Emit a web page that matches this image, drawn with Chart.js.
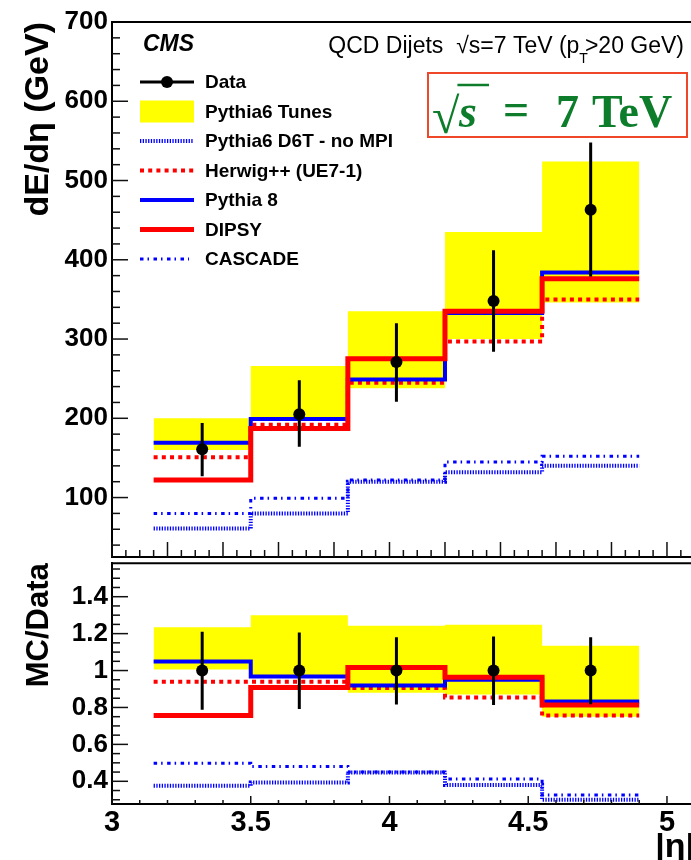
<!DOCTYPE html>
<html><head><meta charset="utf-8">
<script src="https://cdn.jsdelivr.net/npm/chart.js@4.4.1/dist/chart.umd.min.js"></script>
<style>
html,body{margin:0;padding:0;background:#fff;overflow:hidden;width:691px;height:860px;}
#top{position:absolute;left:0;top:0;width:695px;height:560px;}
#bot{position:absolute;left:0;top:560px;width:695px;height:300px;}
</style></head><body>
<div id="top"><canvas id="c1" width="695" height="560"></canvas></div>
<div id="bot"><canvas id="c2" width="695" height="300"></canvas></div>
<script>
// ---------- data ----------
const binEdges = [3.15, 3.5, 3.85, 4.2, 4.55, 4.9];
// top panel: dE/deta (GeV)
const dataVal   = [161, 205, 271, 348, 463];
const dataErrLo = [127, 164, 221, 284, 379];
const dataErrHi = [194, 248, 320, 412, 548];
const tunesLo   = [160, 199, 238, 300, 346];
const tunesHi   = [200, 266, 335, 435, 524];
const d6tNoMPI  = [61, 80, 120, 132, 140];
const herwig    = [151, 192, 245, 297, 350];
const pythia8   = [169, 199, 249, 333, 384];
const dipsy     = [122, 187, 275, 335, 376];
const cascade   = [80, 99, 122, 145, 152];
// bottom panel: MC/Data
const rData     = [1, 1, 1, 1, 1];
const rErrLo    = [0.787, 0.792, 0.816, 0.814, 0.818];
const rErrHi    = [1.21, 1.206, 1.18, 1.184, 1.18];
const rTunesLo  = [1.005, 0.965, 0.88, 0.87, 0.75];
const rTunesHi  = [1.235, 1.30, 1.242, 1.248, 1.134];
const rD6T      = [0.376, 0.393, 0.447, 0.38, 0.30];
const rHerwig   = [0.939, 0.939, 0.905, 0.854, 0.756];
const rPythia8  = [1.049, 0.968, 0.919, 0.95, 0.832];
const rDipsy    = [0.756, 0.908, 1.017, 0.964, 0.814];
const rCascade  = [0.498, 0.48, 0.45, 0.413, 0.326];
// tick labels
const topYTicks   = [100, 200, 300, 400, 500, 600, 700];
const ratioYTicks = [0.4, 0.6, 0.8, 1.0, 1.2, 1.4];
const xTickLabels = [3, 3.5, 4, 4.5, 5];
const legendOrder = ['Data', 'Pythia6 Tunes', 'Pythia6 D6T - no MPI', 'Herwig++ (UE7-1)', 'Pythia 8', 'DIPSY', 'CASCADE'];

// ---------- helpers ----------
const SANS = "'Liberation Sans', Arial, Helvetica, sans-serif";
const SERIF = "'Liberation Serif', 'DejaVu Serif', serif";
const X_MIN = 3, X_MAX = 5.101;
const centers = binEdges.slice(0, -1).map((e, i) => (e + binEdges[i + 1]) / 2);
const hist = vals => binEdges.map((e, i) => ({x: e, y: vals[Math.min(i, vals.length - 1)]}));
const pts = vals => centers.map((c, i) => ({x: c, y: vals[i]}));
const errs = (lo, hi) => centers.flatMap((c, i) => [{x: c, y: lo[i]}, {x: c, y: hi[i]}, {x: c, y: null}]);

function buildDatasets(v) {
  const line = (label, vals, color, width, dash, order) => ({
    label, data: hist(vals), borderColor: color, borderWidth: width, borderDash: dash,
    stepped: true, pointRadius: 0, fill: false, order, borderCapStyle: 'butt', borderJoinStyle: 'miter'
  });
  return [
    {label: 'Data', data: pts(v.data), showLine: false, pointRadius: 6, pointHoverRadius: 6,
     pointBackgroundColor: '#000', pointBorderColor: '#000', pointBorderWidth: 0, order: 0},
    {label: 'Data uncertainty', data: errs(v.lo, v.hi), borderColor: '#000', borderWidth: 3,
     pointRadius: 0, spanGaps: false, fill: false, order: 1},
    line('DIPSY', v.dipsy, '#ff0000', 5, [], 2),
    line('Pythia 8', v.py8, '#0000ff', 4, [], 3),
    line('Herwig++ (UE7-1)', v.herwig, '#ff0000', 4, [4, 4.2], 4),
    line('CASCADE', v.cascade, '#0000ff', 3, [3.5, 4, 1.5, 4.5], 5),
    line('Pythia6 D6T - no MPI', v.d6t, '#0000ff', 4, [1.3, 1.4], 6),
    {label: 'Pythia6 Tunes', data: hist(v.tHi), stepped: true, borderColor: 'rgba(0,0,0,0)', borderWidth: 0,
     pointRadius: 0, backgroundColor: '#ffff00', fill: '+1', order: 10},
    {label: 'Pythia6 Tunes (lower edge)', data: hist(v.tLo), stepped: true, borderColor: 'rgba(0,0,0,0)', borderWidth: 0,
     pointRadius: 0, fill: false, order: 11}
  ];
}

// ROOT-style inner ticks + top frame line
const rootFrame = {
  id: 'rootFrame',
  afterDatasetsDraw(chart, args, opts) {
    const {ctx, chartArea: a, scales: {x, y}} = chart;
    ctx.save();
    ctx.strokeStyle = '#111';
    ctx.lineWidth = 1.5;
    const draw = (scale, cfg, horiz) => {
      const n0 = Math.ceil(scale.min / cfg.minor - 1e-6), n1 = Math.floor(scale.max / cfg.minor + 1e-6);
      for (let n = n0; n <= n1; n++) {
        const v = n * cfg.minor;
        const r = v / cfg.major;
        const len = Math.abs(r - Math.round(r)) < 1e-6 ? cfg.majLen : cfg.minLen;
        const p = scale.getPixelForValue(v);
        ctx.beginPath();
        if (horiz) { ctx.moveTo(p, a.bottom); ctx.lineTo(p, a.bottom - len); }
        else { ctx.moveTo(a.left, p); ctx.lineTo(a.left + len, p); }
        ctx.stroke();
      }
    };
    draw(x, opts.x, true);
    draw(y, opts.y, false);
    ctx.lineWidth = 2;
    ctx.strokeStyle = '#000';
    ctx.beginPath(); ctx.moveTo(a.left, a.top); ctx.lineTo(a.right, a.top); ctx.stroke();
    ctx.restore();
  }
};

// legend and text annotations (top panel)
const rootLegend = {
  id: 'rootLegend',
  afterDraw(chart) {
    const ctx = chart.ctx;
    const ds = chart.data.datasets;
    ctx.save();
    ctx.textBaseline = 'middle'; ctx.textAlign = 'left'; ctx.fillStyle = '#000';
    ctx.font = `italic bold 23px ${SANS}`;
    ctx.fillText('CMS', 143, 45);
    const x0 = 140, x1 = 194, tx = 205;
    legendOrder.forEach((lab, i) => {
      const y = 82 + i * 29.5;
      const d = ds.find(q => q.label === lab);
      if (lab === 'Data') {
        ctx.strokeStyle = '#000'; ctx.lineWidth = 3; ctx.setLineDash([]);
        ctx.beginPath(); ctx.moveTo(x0, y); ctx.lineTo(x1, y); ctx.stroke();
        ctx.beginPath(); ctx.arc((x0 + x1) / 2, y, 6, 0, Math.PI * 2); ctx.fillStyle = '#000'; ctx.fill();
      } else if (lab === 'Pythia6 Tunes') {
        ctx.fillStyle = d.backgroundColor; ctx.fillRect(x0, y - 11, x1 - x0, 22);
      } else {
        ctx.strokeStyle = d.borderColor; ctx.lineWidth = d.borderWidth; ctx.setLineDash(d.borderDash || []);
        ctx.lineCap = 'butt';
        ctx.beginPath(); ctx.moveTo(x0, y); ctx.lineTo(lab === 'CASCADE' ? 189 : x1, y); ctx.stroke();
        ctx.setLineDash([]);
      }
      ctx.fillStyle = '#000';
      ctx.font = `bold 19px ${SANS}`;
      ctx.fillText(lab, tx, y + 1);
    });
    // header text, right aligned
    ctx.textBaseline = 'alphabetic';
    const p1 = 'QCD Dijets  \u221As=7 TeV (p', sub = 'T', p2 = '>20 GeV)';
    ctx.font = `23px ${SANS}`;
    const w1 = ctx.measureText(p1).width, w2 = ctx.measureText(p2).width;
    ctx.font = `14px ${SANS}`;
    const ws = ctx.measureText(sub).width;
    let xs = 684 - (w1 + ws + w2 - 3);
    ctx.font = `23px ${SANS}`;
    ctx.fillText(p1, xs, 53);
    ctx.font = `14px ${SANS}`;
    ctx.fillText(sub, xs + w1, 63);
    ctx.font = `23px ${SANS}`;
    ctx.fillText(p2, xs + w1 + ws - 3, 53);
    // boxed energy label
    ctx.strokeStyle = '#f0462a'; ctx.lineWidth = 2;
    ctx.strokeRect(428, 73, 259, 64);
    ctx.fillStyle = '#0d7d2b'; ctx.strokeStyle = '#0d7d2b';
    const base = 127;
    ctx.font = `50px ${SERIF}`;
    ctx.fillText('\u221A', 432, base + 6);
    const wr = ctx.measureText('\u221A').width;
    ctx.lineWidth = 2.5;
    ctx.beginPath(); ctx.moveTo(432 + wr - 2, 85); ctx.lineTo(489, 85); ctx.stroke();
    ctx.font = `italic bold 46px ${SERIF}`;
    ctx.fillText('s', 459, base);
    ctx.font = `bold 46px ${SERIF}`;
    ctx.fillText('=', 503, base - 2);
    ctx.fillText('7', 556, base);
    ctx.fillText('TeV', 592, base);
    ctx.restore();
  }
};

function yAxis(min, max, ticks, title, titlePad, titleSize) {
  return {
    type: 'linear', min, max,
    afterBuildTicks: s => { s.ticks = ticks.map(v => ({value: v})); },
    afterFit: s => { s.width = 112; s.paddingTop = 0; s.paddingBottom = 0; },
    grid: {display: false, drawTicks: false, tickLength: 0},
    border: {display: true, color: '#000', width: 2},
    ticks: {color: '#000', padding: 4, font: {family: SANS, size: 26, weight: 'bold'},
            callback: v => String(+Number(v).toFixed(2))},
    title: {display: true, text: title, align: 'end', color: '#000',
            font: {family: SANS, size: titleSize, weight: 'bold', lineHeight: 1.2},
            padding: {top: titlePad, bottom: 0}}
  };
}

Chart.defaults.animation = false;

new Chart(document.getElementById('c1'), {
  type: 'line',
  data: {datasets: buildDatasets({data: dataVal, lo: dataErrLo, hi: dataErrHi, tLo: tunesLo, tHi: tunesHi,
    d6t: d6tNoMPI, herwig, py8: pythia8, dipsy, cascade})},
  options: {
    responsive: false, devicePixelRatio: 1, events: [],
    layout: {autoPadding: false, padding: {top: 22, left: 0, right: 0, bottom: 0}},
    plugins: {legend: {display: false}, tooltip: {enabled: false},
      rootFrame: {x: {major: 0.2, minor: 0.05, majLen: 15, minLen: 7}, y: {major: 100, minor: 20, majLen: 16, minLen: 8}}},
    scales: {
      x: {type: 'linear', min: X_MIN, max: X_MAX,
          afterFit: s => { s.height = 3; s.paddingLeft = 0; s.paddingRight = 0; },
          grid: {display: false, drawTicks: false, tickLength: 0},
          border: {display: true, color: '#000', width: 2},
          ticks: {display: false}},
      y: yAxis(25, 700, topYTicks, 'dE/d\u03B7 (GeV)', 18, 34)
    }
  },
  plugins: [rootFrame, rootLegend]
});

new Chart(document.getElementById('c2'), {
  type: 'line',
  data: {datasets: buildDatasets({data: rData, lo: rErrLo, hi: rErrHi, tLo: rTunesLo, tHi: rTunesHi,
    d6t: rD6T, herwig: rHerwig, py8: rPythia8, dipsy: rDipsy, cascade: rCascade})},
  options: {
    responsive: false, devicePixelRatio: 1, events: [],
    layout: {autoPadding: false, padding: {top: 3.3, left: 0, right: 0, bottom: 0}},
    plugins: {legend: {display: false}, tooltip: {enabled: false},
      rootFrame: {x: {major: 0.5, minor: 0.1, majLen: 8, minLen: 4}, y: {major: 0.2, minor: 0.05, majLen: 16, minLen: 8}}},
    scales: {
      x: {type: 'linear', min: X_MIN, max: X_MAX,
          afterBuildTicks: s => { s.ticks = xTickLabels.map(v => ({value: v})); },
          afterFit: s => { s.height = 56; s.paddingLeft = 0; s.paddingRight = 0; },
          grid: {display: false, drawTicks: false, tickLength: 0},
          border: {display: true, color: '#000', width: 2},
          ticks: {color: '#000', padding: 2, maxRotation: 0, autoSkip: false,
                  font: {family: SANS, size: 29, weight: 'bold'},
                  callback: v => String(+Number(v).toFixed(2))},
          title: {display: true, text: '|\u03B7|', align: 'end', color: '#000',
                  font: {family: SANS, size: 34, weight: 'bold', lineHeight: 1},
                  padding: {top: 0, bottom: -5}}},
      y: yAxis(0.277, 1.581, ratioYTicks, 'MC/Data', 21, 31)
    }
  },
  plugins: [rootFrame]
});
</script>
</body></html>
